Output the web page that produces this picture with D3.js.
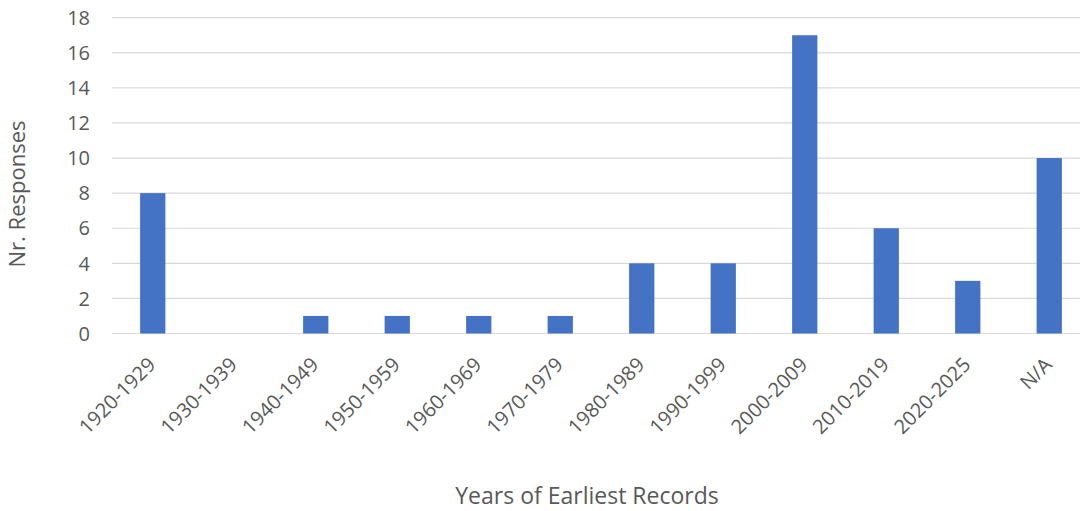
<!DOCTYPE html>
<html><head><meta charset="utf-8">
<script src="https://cdn.jsdelivr.net/npm/d3@7"></script>
<style>
html,body{margin:0;padding:0;background:#fff;overflow:hidden;}
text{font-family:"Open Sans",sans-serif;fill:#595959;}
</style></head>
<body><svg id="c" width="1080" height="511"></svg>
<script>
const categories = ["1920-1929","1930-1939","1940-1949","1950-1959","1960-1969","1970-1979","1980-1989","1990-1999","2000-2009","2010-2019","2020-2025","N/A"];
const values = [8,0,1,1,1,1,4,4,17,6,3,10];
const yTicks = [0,2,4,6,8,10,12,14,16,18];
const xTitle = "Years of Earliest Records";
const yTitle = "Nr. Responses";

const svg = d3.select("#c");
const mLeft = 112, mRight = 1090, mTop = 17.7, mBottom = 333.5;
const x = d3.scaleBand().domain(categories).range([mLeft, mRight]).padding(0);
const y = d3.scaleLinear().domain([0,18]).range([mBottom, mTop]);

// gridlines
svg.append("g").selectAll("line").data(yTicks).join("line")
  .attr("x1", mLeft).attr("x2", 1080)
  .attr("y1", d=>y(d)).attr("y2", d=>y(d))
  .attr("stroke", "#d9d9d9").attr("stroke-width", 1.2);

// y tick labels
svg.append("g").selectAll("text").data(yTicks).join("text")
  .attr("x", 90).attr("y", d=>y(d)).attr("dy","0.36em")
  .attr("text-anchor","end").style("font-size","20px")
  .text(d=>d);

// bars
const bw = x.bandwidth()*0.31;
svg.append("g").selectAll("rect").data(values).join("rect")
  .attr("x", (d,i)=>x(categories[i]) + x.bandwidth()/2 - bw/2)
  .attr("width", bw)
  .attr("y", d=>y(d))
  .attr("height", d=>y(0)-y(d))
  .attr("fill", "#4472c4");

// x tick labels
svg.append("g").selectAll("text").data(categories).join("text")
  .attr("text-anchor","end").style("font-size","20px")
  .attr("transform", d=>`translate(${x(d)+x.bandwidth()/2+4},366) rotate(-45)`)
  .text(d=>d);

// axis titles
svg.append("text").attr("x", 587).attr("y", 504).attr("text-anchor","middle")
  .style("font-size","23px").text(xTitle);
svg.append("text").attr("transform","translate(25,194) rotate(-90)")
  .attr("text-anchor","middle").style("font-size","22px").text(yTitle);
</script></body></html>
